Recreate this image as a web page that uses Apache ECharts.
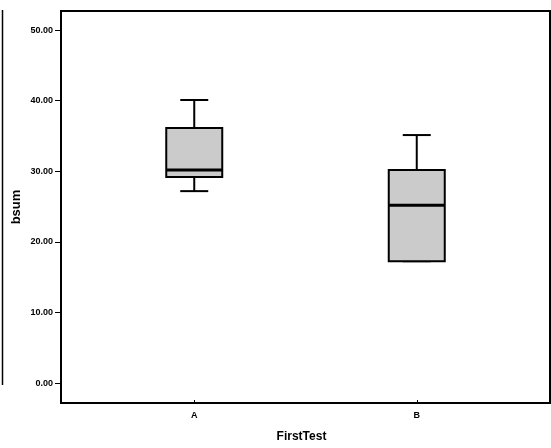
<!DOCTYPE html>
<html>
<head>
<meta charset="utf-8">
<script src="https://cdn.jsdelivr.net/npm/echarts@6/dist/echarts.min.js"></script>
<style>
  html, body { margin: 0; padding: 0; background: #fff; }
  #main { width: 551px; height: 448px; }
</style>
</head>
<body>
<div id="main"></div>
<script>
  // data
  var groups = ['A', 'B'];
  // [min, Q1, median, Q3, max]
  var boxA = [27, 29, 30, 36, 40];
  var boxB = [17, 17, 25, 30, 35];
  var yTicks = [0, 10, 20, 30, 40, 50];

  var myChart = echarts.init(document.getElementById('main'));
  var font = 'Liberation Sans, Arial, sans-serif';

  var boxData = [[0].concat(boxA), [1].concat(boxB)];

  // box drawn by hand so the whisker caps can be half the box width (like SPSS)
  function renderBox(params, api) {
    var i = api.value(0);
    var pMin = api.coord([i, api.value(1)]);
    var pQ1 = api.coord([i, api.value(2)]);
    var pMed = api.coord([i, api.value(3)]);
    var pQ3 = api.coord([i, api.value(4)]);
    var pMax = api.coord([i, api.value(5)]);
    var cx = pMed[0];
    var bw = 56, cw = 28;
    var line = { stroke: '#000', lineWidth: 2 };
    return {
      type: 'group',
      children: [
        { type: 'line', shape: { x1: cx, y1: pQ3[1], x2: cx, y2: pMax[1] }, style: line },
        { type: 'line', shape: { x1: cx - cw / 2, y1: pMax[1], x2: cx + cw / 2, y2: pMax[1] }, style: line },
        { type: 'line', shape: { x1: cx, y1: pQ1[1], x2: cx, y2: pMin[1] }, style: line },
        { type: 'line', shape: { x1: cx - cw / 2, y1: pMin[1], x2: cx + cw / 2, y2: pMin[1] }, style: line },
        { type: 'rect', shape: { x: cx - bw / 2, y: pQ3[1], width: bw, height: pQ1[1] - pQ3[1] },
          style: { fill: '#cbcbcb', stroke: '#000', lineWidth: 2 } },
        { type: 'line', shape: { x1: cx - bw / 2, y1: pMed[1], x2: cx + bw / 2, y2: pMed[1] },
          style: { stroke: '#000', lineWidth: 3 } }
      ]
    };
  }

  var option = {
    backgroundColor: '#fff',
    animation: false,
    grid: [
      // frame grid (carries the y axis and the border)
      { left: 61, right: 1, top: 11, bottom: 45, show: true, borderColor: '#000', borderWidth: 2 },
      // inner grid so that the categories sit where they do in the picture
      { left: 83, right: 23, top: 11, bottom: 45 }
    ],
    xAxis: [
      { type: 'value', gridIndex: 0, show: false, min: 0, max: 1 },
      {
        type: 'category', gridIndex: 1, data: groups,
        axisLine: { show: false, onZero: false },
        axisTick: { show: true, alignWithLabel: true, length: 4, lineStyle: { color: '#000', width: 1 } },
        axisLabel: { color: '#000', fontSize: 9, fontWeight: 'bold', fontFamily: font, margin: 11 },
        name: 'FirstTest', nameLocation: 'middle', nameGap: 31, nameMoveOverlap: false,
        nameTextStyle: { color: '#000', fontSize: 12, fontWeight: 'bold', fontFamily: font, padding: [0, 8, 0, 0] }
      }
    ],
    yAxis: [
      {
        type: 'value', gridIndex: 0, min: -2.8, max: 52.7,
        axisLine: { show: false },
        splitLine: { show: false },
        axisTick: { show: true, length: 6, customValues: yTicks, lineStyle: { color: '#000' } },
        axisLabel: {
          customValues: yTicks, color: '#000', fontSize: 9, fontWeight: 'bold', fontFamily: font, margin: 8,
          formatter: function (v) { return v.toFixed(2); }
        },
        name: 'bsum', nameLocation: 'middle', nameRotate: 90, nameGap: 38, nameMoveOverlap: false,
        nameTextStyle: { color: '#000', fontSize: 13, fontWeight: 'bold', fontFamily: font }
      },
      { type: 'value', gridIndex: 1, min: -2.8, max: 52.7, show: false }
    ],
    graphic: [
      { type: 'line', shape: { x1: 2.5, y1: 10, x2: 2.5, y2: 385 }, style: { stroke: '#000', lineWidth: 1.5 } }
    ],
    series: [{
      type: 'custom',
      xAxisIndex: 1,
      yAxisIndex: 1,
      renderItem: renderBox,
      encode: { x: 0, y: [1, 2, 3, 4, 5] },
      data: boxData
    }]
  };
  myChart.setOption(option);
</script>
</body>
</html>
